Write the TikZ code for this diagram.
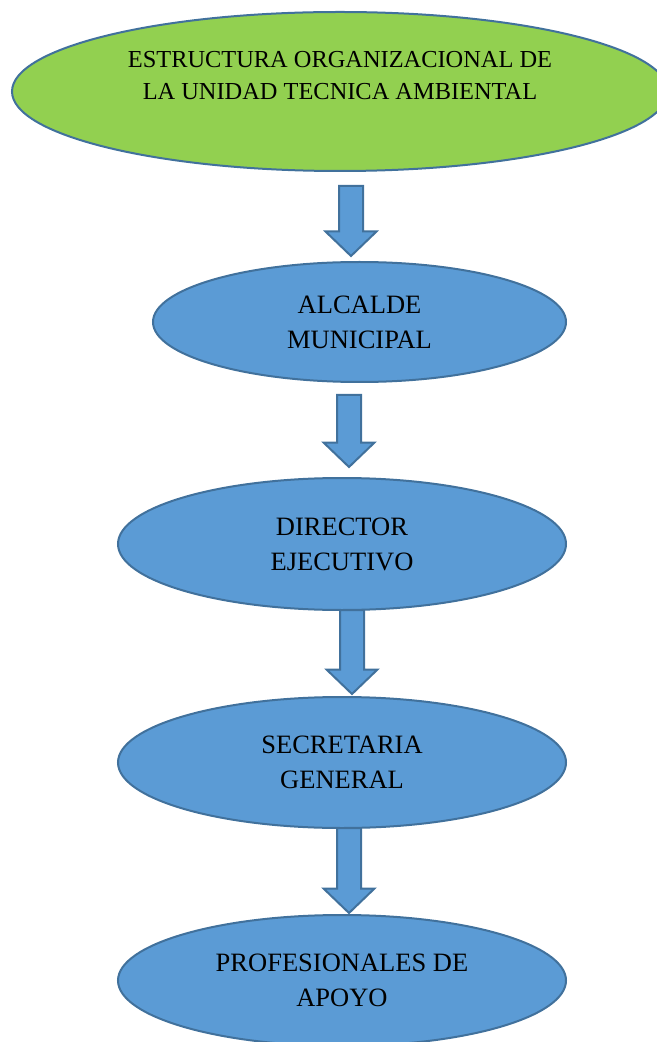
\documentclass[tikz,border=0pt]{standalone}
\usepackage{fontspec}
\setmainfont{Liberation Serif}
\usetikzlibrary{shapes.geometric,calc}
\definecolor{verde}{HTML}{92D050}
\definecolor{azul}{HTML}{5B9BD5}
\definecolor{borde}{HTML}{41719C}
\tikzstyle{org}=[x=0.5pt,y=-0.5pt]
\tikzstyle{titulo}=[ellipse, draw=borde, line width=1pt, fill=verde, inner sep=0pt, align=center, font=\fontsize{12.2}{16}\selectfont]
\tikzstyle{cargo}=[ellipse, draw=borde, line width=1pt, fill=azul, inner sep=0pt, align=center, font=\fontsize{13.25}{17.5}\selectfont]
\tikzstyle{flecha}=[draw=borde, line width=1pt, fill=azul, line join=miter]
% block arrow from tail coordinate #1 down to tip coordinate #2
\newcommand{\bloque}[2]{\draw[flecha] ($(#1)+(-12,0)$) -- ($(#1)+(12,0)$) -- ($(#2)+(12,-24.5)$) -- ($(#2)+(25.5,-24.5)$) -- (#2) -- ($(#2)+(-25.5,-24.5)$) -- ($(#2)+(-12,-24.5)$) -- cycle;}
\begin{document}
\begin{tikzpicture}[org]
				\useasboundingbox (0,0) rectangle (657,1042);
				
				%The title
				\draw (340,91.5) node[titulo, minimum width=328pt, minimum height=79.5pt] (tit) {ESTRUCTURA ORGANIZACIONAL DE\\LA UNIDAD TECNICA AMBIENTAL\\\mbox{}};
				
				%The chain of posts
				\draw (359.5,322) node[cargo, minimum width=206.5pt, minimum height=60pt] (alc) {ALCALDE\\MUNICIPAL};
				\draw (342,544) node[cargo, minimum width=224pt, minimum height=66pt] (dir) {DIRECTOR\\EJECUTIVO};
				\draw (342,762.5) node[cargo, minimum width=224pt, minimum height=65.5pt] (sec) {SECRETARIA\\GENERAL};
				\draw (342,980.5) node[cargo, minimum width=224pt, minimum height=65.5pt] (pro) {PROFESIONALES DE\\APOYO};
				
				%The arrows
				\coordinate (f1-a) at (351,186);
				\coordinate (f1-b) at (351,256);
				\coordinate (f2-a) at (349,395);
				\coordinate (f2-b) at (349,467);
				\coordinate (f3-a) at (352,610);
				\coordinate (f3-b) at (352,694);
				\coordinate (f4-a) at (349,828);
				\coordinate (f4-b) at (349,913);
				
				\bloque{f1-a}{f1-b}
				\bloque{f2-a}{f2-b}
				\bloque{f3-a}{f3-b}
				\bloque{f4-a}{f4-b}
			\end{tikzpicture}
\end{document}
